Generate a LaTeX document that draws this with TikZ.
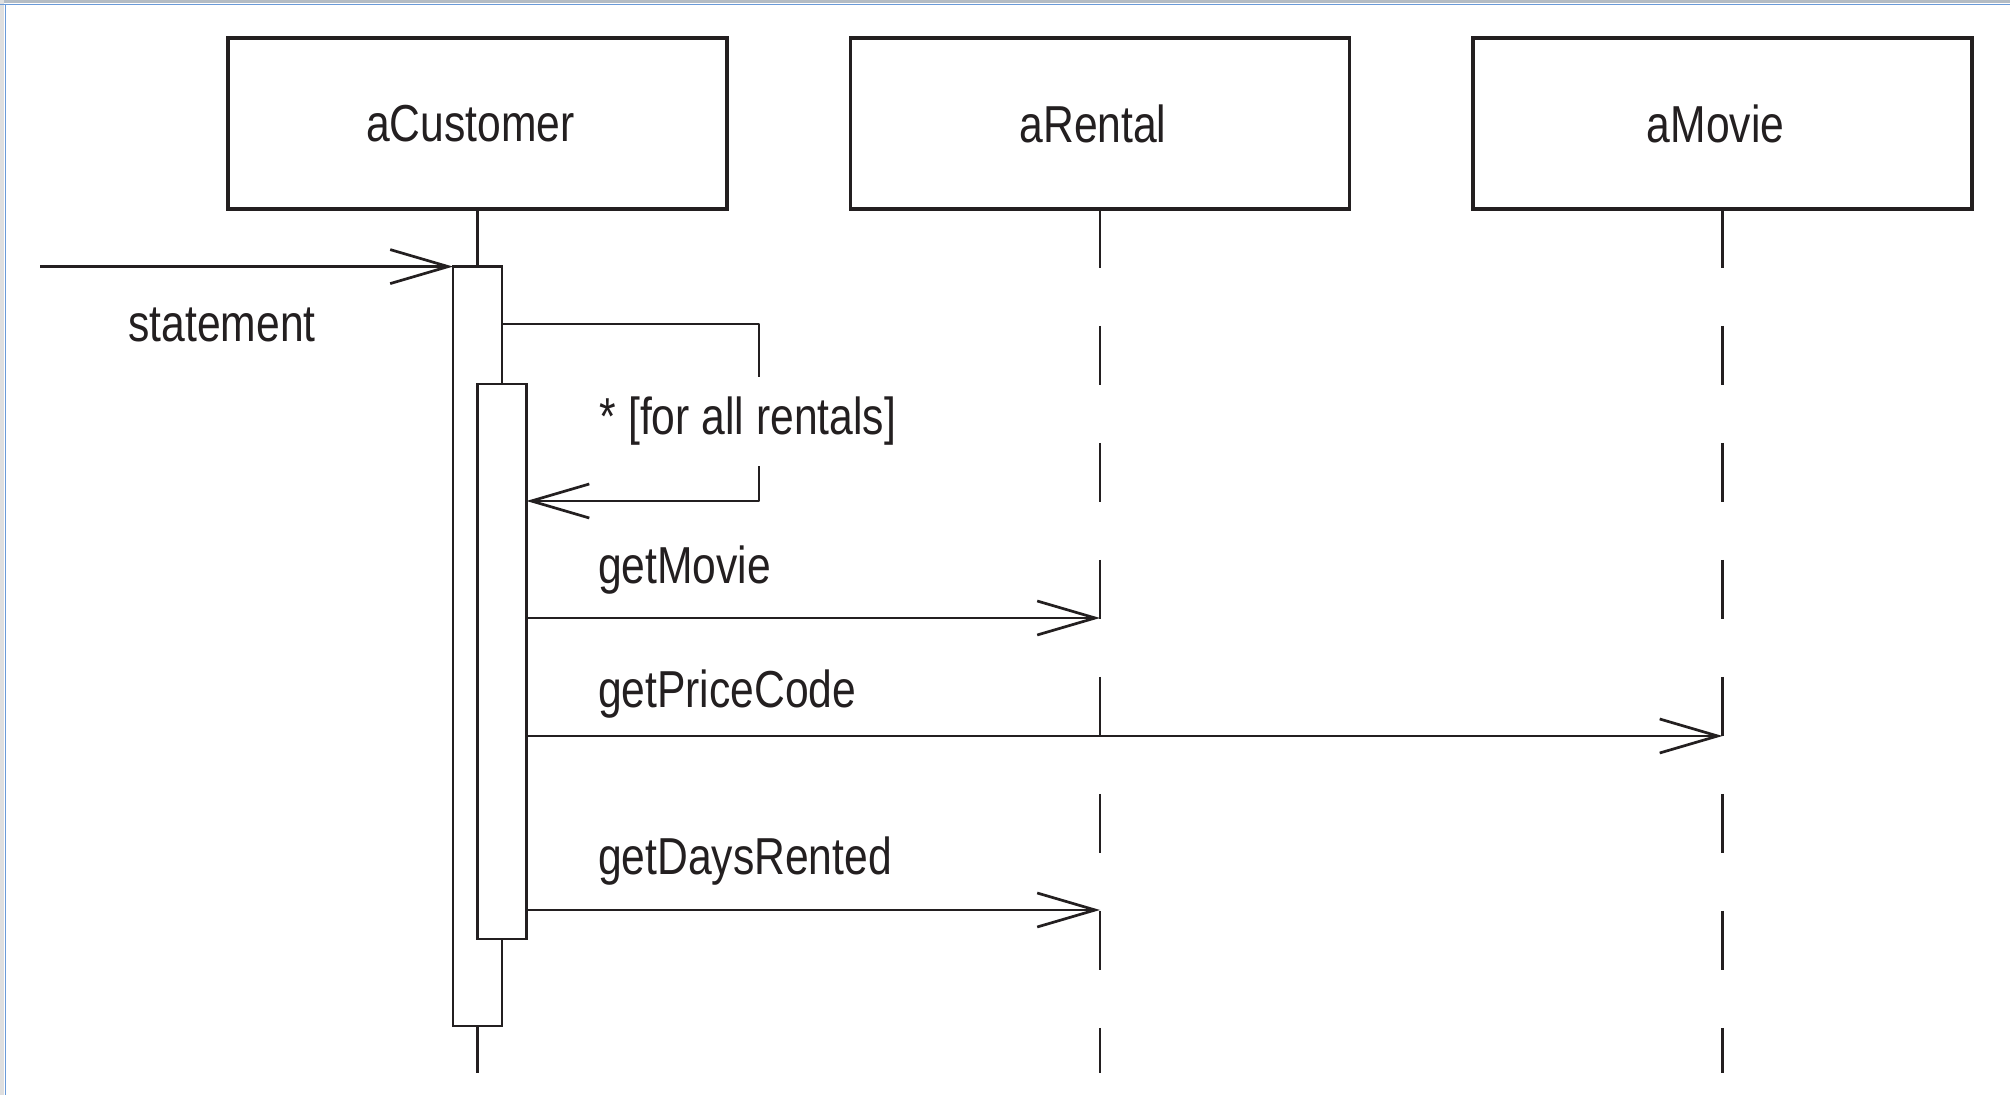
\documentclass[tikz,border=0pt]{standalone}
\usepackage{fontspec}
\setmainfont{Liberation Sans}[FakeStretch=0.82]
\usetikzlibrary{arrows.meta}
\definecolor{ink}{HTML}{231F20}
\definecolor{framegray}{HTML}{B4BCC4}
\definecolor{frameblue}{HTML}{6A9AD8}
\begin{document}
\begin{tikzpicture}[x=0.5pt,y=-0.5pt,
  every node/.style={font=\fontsize{26pt}{31pt}\selectfont, text=ink},
  objbox/.style={draw=ink, line width=1.6pt, minimum width=249.5pt, minimum height=85.5pt, inner sep=0pt, outer sep=0pt, execute at begin node={\kern-7pt}},
  act/.style={draw=ink, fill=white, line width=1.35pt, minimum width=24.5pt, inner sep=0pt, outer sep=0pt},
  life/.style={draw=ink, line width=1.3pt},
  lifedash/.style={life, dash pattern=on 29.5pt off 29pt},
  msg/.style={draw=ink, line width=1.35pt, line join=round, -{Straight Barb[length=29pt,width=17pt]}},
  lbl/.style={anchor=base west},
]
\useasboundingbox (0,0) rectangle (2010,1095);
\fill[white] (0,0) rectangle (2010,1095);
% window frame
\fill[framegray] (0,0) rectangle (2010,3.5);
\fill[gray!25] (0,0) rectangle (4,1095);
\draw[frameblue, line width=0.8pt] (0,4.5) -- (2010,4.5);
\draw[frameblue, line width=0.8pt] (5.5,4.5) -- (5.5,1095);

% objects
\node[objbox] (cust) at (477.5,123.5) {aCustomer};
\node[objbox] (rental) at (1100,123.5) {aRental};
\node[objbox] (movie) at (1722.5,123.5) {aMovie};

% lifelines
\coordinate (custEnd) at (477.5,1073);
\coordinate (rentalEnd) at (1100,1073);
\coordinate (movieEnd) at (1722.5,1073);
\draw[lifedash] (rental.south) -- (rentalEnd);
\draw[lifedash] (movie.south) -- (movieEnd);

% activations
\node[act, minimum height=379.7pt] (act1) at (477.5,646.3) {};
\node[act, minimum height=277.5pt] (act2) at (502,661.5) {};
\draw[life] (cust.south) -- (act1.north);
\draw[life] (act1.south) -- (custEnd);

% statement
\coordinate (src) at (40,266.6);
\draw[msg] (src) -- (act1.north west);
\node[anchor=base] (statementLbl) at (222,342) {statement};

% self loop
\coordinate (loopA) at (759,324);
\coordinate (loopB) at (759,501);
\draw[msg] (act1.east |- loopA) -- (loopA) -- (loopB) -- (act2.east |- loopB);
\node[anchor=base, fill=white, inner xsep=2pt, inner ysep=10pt] (loopLbl) at (748,435) {* [for all rentals]};

% messages
\coordinate (m1) at (1100,618);
\draw[msg] (act2.east |- m1) -- (m1);
\node[lbl] (getMovieLbl) at (591,584) {getMovie};

\coordinate (m2) at (1722.5,736);
\draw[msg] (act2.east |- m2) -- (m2);
\node[lbl] (getPriceLbl) at (591,708) {getPriceCode};

\coordinate (m3) at (1100,910);
\draw[msg] (act2.east |- m3) -- (m3);
\node[lbl] (getDaysLbl) at (591,875) {getDaysRented};
\end{tikzpicture}
\end{document}
